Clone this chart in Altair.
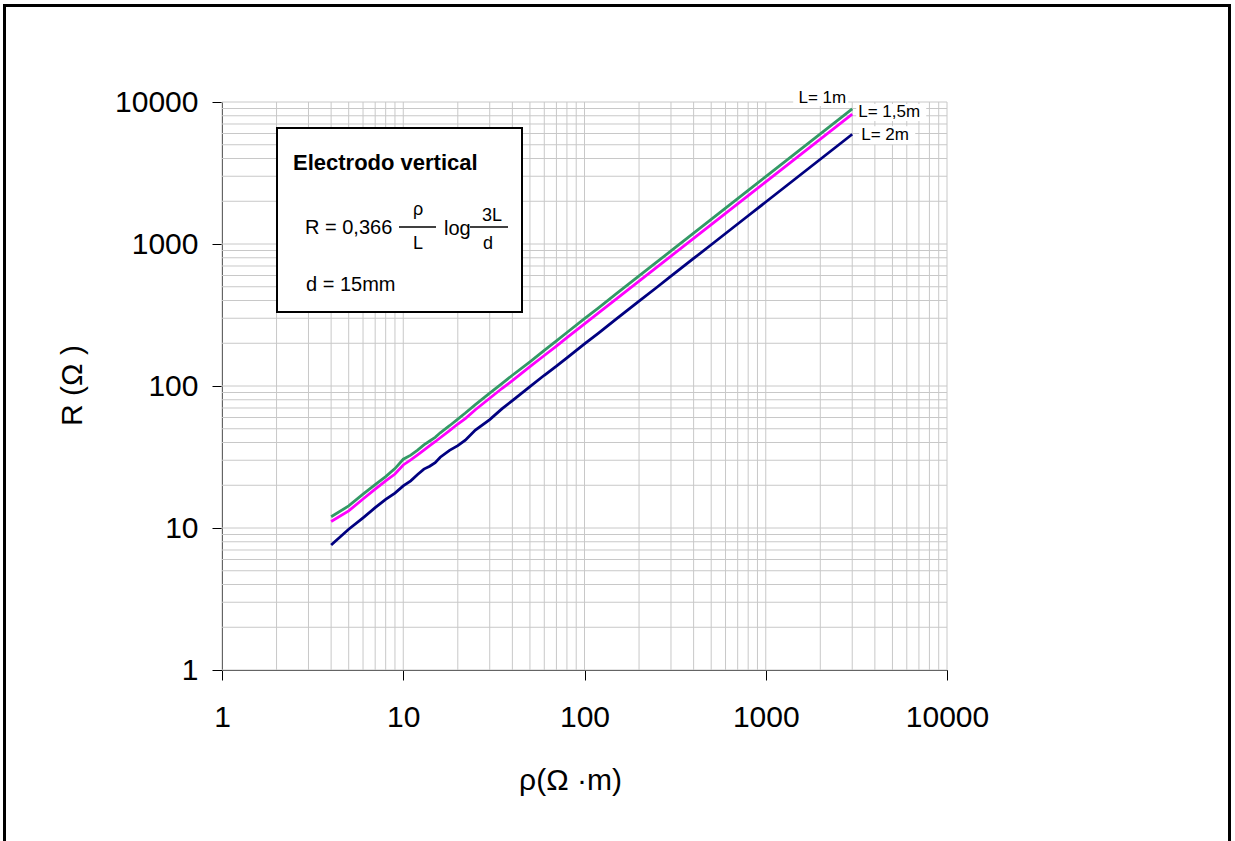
import altair as alt
import pandas as pd

# --- data ---
rho = [4, 5, 6, 7, 8, 9, 10, 11, 12, 13, 14, 15, 16, 18, 20, 22, 25, 30, 35, 40,
       50, 60, 70, 80, 100, 120, 150, 200, 250, 300, 400, 500, 600, 800, 1000,
       1200, 1500, 2000, 2500, 3000]
r_L1 = [12.0, 14.3, 17.3, 20.2, 23.0, 26.2, 30.5, 32.6, 35.4, 38.5, 41.0, 43.5, 46.8,
        52.5, 58.5, 64.5, 74, 89, 104, 119, 148, 178, 208, 238, 298, 357, 447, 596,
        745, 894, 1192, 1490, 1788, 2385, 2980, 3576, 4470, 5960, 7450, 8940]
r_L15 = [11.1, 13.2, 16.0, 18.8, 21.5, 24.0, 27.8, 30.2, 32.7, 35.3, 38.0, 40.5, 43.2,
         48.5, 54.0, 59.0, 68, 82, 96, 109, 137, 164, 191, 219, 274, 329, 411, 548,
         685, 822, 1096, 1370, 1644, 2192, 2740, 3288, 4110, 5480, 6850, 8220]
r_L2 = [7.6, 9.8, 11.8, 13.9, 15.9, 17.6, 19.8, 21.5, 23.8, 26.0, 27.2, 28.8, 31.5,
        35.2, 38.0, 41.5, 49, 58, 69, 79, 99, 119, 138, 158, 198, 237, 297, 396,
        494, 593, 791, 988, 1186, 1581, 1976, 2371, 2964, 3952, 4940, 5928]

series_names = ["L= 1m", "L= 1,5m", "L= 2m"]
series_colors = ["#339966", "#FF00FF", "#000080"]

x_ticks = [1, 10, 100, 1000, 10000]
y_ticks = [1, 10, 100, 1000, 10000]
grid_vals = [m * 10 ** k for k in range(4) for m in range(1, 10)] + [10000]

FONT = "Liberation Sans"

rows = []
for name, vals in zip(series_names, [r_L1, r_L15, r_L2]):
    for p, r in zip(rho, vals):
        rows.append({"rho": p, "R": r, "serie": name})
df = pd.DataFrame(rows)

grid_df = pd.DataFrame({"rho": grid_vals, "R": grid_vals})

xs = alt.Scale(type="log", domain=[1, 10000], nice=False)
ys = alt.Scale(type="log", domain=[1, 10000], nice=False)

AX = alt.Axis(values=x_ticks, format="d", grid=False, domainColor="black",
              tickColor="black", tickSize=10, labelFontSize=30, labelFont=FONT,
              labelColor="black", labelPadding=22, labelFlush=False,
              labelOverlap=False, title="ρ(Ω ·m)", titleFont=FONT,
              titleFontSize=30, titleFontWeight="normal", titleColor="black",
              titleX=348, titleY=110, titleBaseline="middle", titleAlign="center")
AY = alt.Axis(values=y_ticks, format="d", grid=False, domainColor="black",
              tickColor="black", tickSize=10, labelFontSize=30, labelFont=FONT,
              labelColor="black", labelPadding=14, labelFlush=False,
              labelOverlap=False, title="R (Ω )", titleFont=FONT,
              titleFontSize=30, titleFontWeight="normal", titleColor="black",
              titleX=-150, titleY=283, titleBaseline="middle", titleAlign="center")


def X(f="rho:Q"):
    return alt.X(f, scale=xs, axis=AX)


def Y(f="R:Q"):
    return alt.Y(f, scale=ys, axis=AY)


vgrid = alt.Chart(grid_df).mark_rule(color="#c8c8c8", strokeWidth=1).encode(x=X())
hgrid = alt.Chart(grid_df).mark_rule(color="#c8c8c8", strokeWidth=1).encode(y=Y())

one = pd.DataFrame({"a": [0]})

box = alt.Chart(one).mark_rect(fill="white", stroke="black", strokeWidth=2).encode(
    x=alt.value(55), x2=alt.value(300), y=alt.value(26), y2=alt.value(210))


def txt(s, x, y, size, align="left", weight="normal"):
    return alt.Chart(one).mark_text(align=align, baseline="middle", fontSize=size,
                                    font=FONT, fontWeight=weight, color="black").encode(
        x=alt.value(x), y=alt.value(y), text=alt.value(s))


def hline(x1, x2, y):
    return alt.Chart(one).mark_rule(color="black", strokeWidth=1.5).encode(
        x=alt.value(x1), x2=alt.value(x2), y=alt.value(y))


annot = [
    box,
    txt("Electrodo vertical", 71, 61, 22, weight="bold"),
    txt("R = 0,366", 83, 126, 20),
    hline(177, 214, 125),
    txt("ρ", 196, 108, 18, align="center"),
    txt("L", 196, 142, 18, align="center"),
    txt("log", 222, 127, 20),
    hline(248, 286, 125),
    txt("3L", 270, 114, 18, align="center"),
    txt("d", 266, 142, 18, align="center"),
    txt("d = 15mm", 84, 183, 20),
]

lines = alt.Chart(df).mark_line(strokeWidth=2.8).encode(
    x=X(), y=Y(),
    color=alt.Color("serie:N", scale=alt.Scale(domain=series_names, range=series_colors),
                    legend=None),
    detail="serie:N",
)

end_df = pd.DataFrame({
    "rho": [rho[-1]] * 3,
    "R": [r_L1[-1], r_L15[-1], r_L2[-1]],
    "serie": series_names,
})

lab_cfg = [
    # name, align, dx, dy, bg offsets (x, x2, y, y2)
    ("L= 1m", "right", -6, -11, -59, -4, -20, -3),
    ("L= 1,5m", "left", 6, -2, 4, 74, -10, 7),
    ("L= 2m", "left", 9, 1, 7, 63, -8, 10),
]
label_layers = []
for (name, align, dx, dy, bx1, bx2, by1, by2) in lab_cfg:
    d = end_df[end_df.serie == name]
    bg = alt.Chart(d).mark_rect(fill="white", xOffset=bx1, x2Offset=bx2,
                                yOffset=by1, y2Offset=by2).encode(
        x=X(), x2="rho:Q", y=Y(), y2="R:Q")
    t = alt.Chart(d).mark_text(align=align, baseline="middle", dx=dx, dy=dy, fontSize=17,
                               font=FONT, color="black").encode(
        x=X(), y=Y(), text="serie:N")
    label_layers += [bg, t]

# outer frame of the picture
frame = [
    alt.Chart(one).mark_rule(color="black", strokeWidth=3).encode(
        x=alt.value(-218), x2=alt.value(1008), y=alt.value(-96.5)),
    alt.Chart(one).mark_rule(color="black", strokeWidth=3).encode(
        x=alt.value(-217.5), y=alt.value(-98), y2=alt.value(760)),
    alt.Chart(one).mark_rule(color="black", strokeWidth=3).encode(
        x=alt.value(1007.5), y=alt.value(-98), y2=alt.value(760)),
]

chart = alt.layer(vgrid, hgrid, *annot, lines, *label_layers, *frame).properties(
    width=725, height=568,
    autosize=alt.AutoSizeParams(type="none"),
    padding={"left": 222, "top": 102, "right": 288, "bottom": 171},
    background="white",
).configure_view(stroke=None)

chart.save("out.html", embed_options={"renderer": "svg", "actions": False})
